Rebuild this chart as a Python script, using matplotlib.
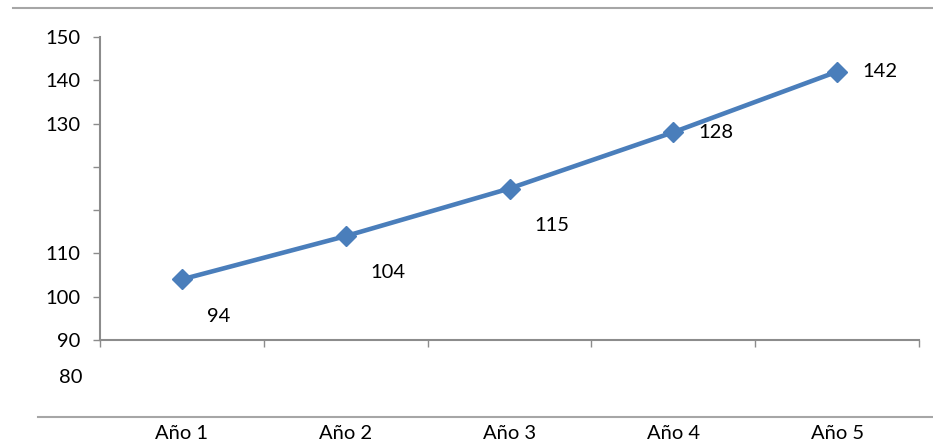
import matplotlib
matplotlib.use("Agg")
import matplotlib.pyplot as plt
from matplotlib.lines import Line2D
import matplotlib.transforms as mtransforms

# Datos del gráfico
anios = ["Año 1", "Año 2", "Año 3", "Año 4", "Año 5"]
valores = [94, 104, 115, 128, 142]
# Etiquetas del eje Y tal como aparecen (desplazadas en la imagen original)
ticks_y = [80, 90, 100, 110, 120, 130, 140, 150]
etiquetas_y = ["90", "100", "110", "", "", "130", "140", "150"]
etiqueta_extra = "80"

plt.rcParams['font.family'] = ['Lato', 'DejaVu Sans']

azul = '#4A7EBB'
gris = '#8C8C8C'
fs = 14.5

fig = plt.figure(figsize=(9.33, 4.47), dpi=100)
ax = fig.add_axes([100 / 933, 1 - 340 / 447, 819 / 933, 303 / 447])

x = list(range(len(anios)))
ax.plot(x, valores, color=azul, linewidth=3.3, marker='D', markersize=10.5,
        markerfacecolor=azul, markeredgecolor=azul, zorder=3)

# Etiquetas de datos: las tres primeras debajo, las dos últimas a la derecha
for i, v in enumerate(valores):
    dy = -26.5 if i < 3 else 0
    ax.annotate(str(v), (i, v), xytext=(18, dy), textcoords='offset points',
                ha='left', va='center', fontsize=fs, color='black')

ax.set_xlim(-0.5, len(anios) - 0.5)
ax.set_ylim(80, 150)

# Eje X: marcas en los límites de categoría, etiquetas muy abajo
ax.set_xticks([i - 0.5 for i in range(len(anios) + 1)])
ax.set_xticklabels([])
ax.tick_params(axis='x', which='major', direction='out', length=5,
               width=1, color=gris)
ax.set_xticks(x, minor=True)
ax.set_xticklabels(anios, minor=True, fontsize=fs)
ax.tick_params(axis='x', which='minor', length=0, pad=61)

# Eje Y
ax.set_yticks(ticks_y)
ax.set_yticklabels(etiquetas_y, fontsize=fs)
ax.tick_params(axis='y', direction='out', length=5, width=1, color=gris, pad=9)
trans = mtransforms.blended_transform_factory(ax.transAxes, ax.transData)
ax.text(-0.0215, 71.4, etiqueta_extra, transform=trans,
        ha='right', va='center', fontsize=fs, clip_on=False)

for s in ['top', 'right']:
    ax.spines[s].set_visible(False)
for s in ['left', 'bottom']:
    ax.spines[s].set_color(gris)
    ax.spines[s].set_linewidth(1.5)

# Líneas grises del marco de la figura
fig.add_artist(Line2D([13 / 933, 1], [1 - 8 / 447, 1 - 8 / 447],
                      color='#A6A6A6', linewidth=1.5, transform=fig.transFigure))
fig.add_artist(Line2D([38 / 933, 1], [1 - 417 / 447, 1 - 417 / 447],
                      color='#A6A6A6', linewidth=1.5, transform=fig.transFigure))

fig.savefig('out.png', dpi=100)
